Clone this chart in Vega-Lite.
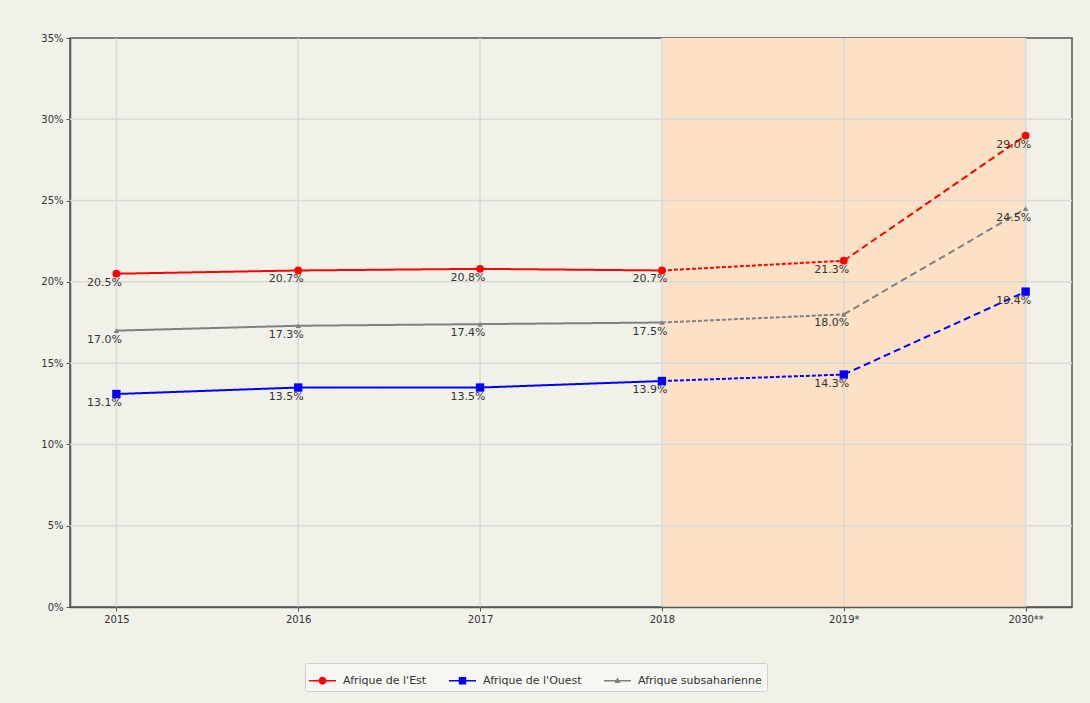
{
  "$schema": "https://vega.github.io/schema/vega-lite/v6.json",
  "width": 1002,
  "height": 569,
  "autosize": {"type": "none"},
  "padding": {"left": 70, "top": 38, "right": 18, "bottom": 96},
  "background": "#f1f1ea",
  "datasets": {
    "pts": [
      {"annee": "2015", "region": "Afrique de l'Est", "val": 0.205},
      {"annee": "2016", "region": "Afrique de l'Est", "val": 0.207},
      {"annee": "2017", "region": "Afrique de l'Est", "val": 0.208},
      {"annee": "2018", "region": "Afrique de l'Est", "val": 0.207},
      {"annee": "2019*", "region": "Afrique de l'Est", "val": 0.213},
      {"annee": "2030**", "region": "Afrique de l'Est", "val": 0.290},
      {"annee": "2015", "region": "Afrique de l'Ouest", "val": 0.131},
      {"annee": "2016", "region": "Afrique de l'Ouest", "val": 0.135},
      {"annee": "2017", "region": "Afrique de l'Ouest", "val": 0.135},
      {"annee": "2018", "region": "Afrique de l'Ouest", "val": 0.139},
      {"annee": "2019*", "region": "Afrique de l'Ouest", "val": 0.143},
      {"annee": "2030**", "region": "Afrique de l'Ouest", "val": 0.194},
      {"annee": "2015", "region": "Afrique subsaharienne", "val": 0.170},
      {"annee": "2016", "region": "Afrique subsaharienne", "val": 0.173},
      {"annee": "2017", "region": "Afrique subsaharienne", "val": 0.174},
      {"annee": "2018", "region": "Afrique subsaharienne", "val": 0.175},
      {"annee": "2019*", "region": "Afrique subsaharienne", "val": 0.180},
      {"annee": "2030**", "region": "Afrique subsaharienne", "val": 0.245}
    ],
    "segs": [
      {"annee": "2015", "serie": "Afrique de l'Est", "val": 0.205, "seg": "a"},
      {"annee": "2016", "serie": "Afrique de l'Est", "val": 0.207, "seg": "a"},
      {"annee": "2017", "serie": "Afrique de l'Est", "val": 0.208, "seg": "a"},
      {"annee": "2018", "serie": "Afrique de l'Est", "val": 0.207, "seg": "a"},
      {"annee": "2018", "serie": "Afrique de l'Est", "val": 0.207, "seg": "b"},
      {"annee": "2019*", "serie": "Afrique de l'Est", "val": 0.213, "seg": "b"},
      {"annee": "2019*", "serie": "Afrique de l'Est", "val": 0.213, "seg": "c"},
      {"annee": "2030**", "serie": "Afrique de l'Est", "val": 0.290, "seg": "c"},
      {"annee": "2015", "serie": "Afrique de l'Ouest", "val": 0.131, "seg": "a"},
      {"annee": "2016", "serie": "Afrique de l'Ouest", "val": 0.135, "seg": "a"},
      {"annee": "2017", "serie": "Afrique de l'Ouest", "val": 0.135, "seg": "a"},
      {"annee": "2018", "serie": "Afrique de l'Ouest", "val": 0.139, "seg": "a"},
      {"annee": "2018", "serie": "Afrique de l'Ouest", "val": 0.139, "seg": "b"},
      {"annee": "2019*", "serie": "Afrique de l'Ouest", "val": 0.143, "seg": "b"},
      {"annee": "2019*", "serie": "Afrique de l'Ouest", "val": 0.143, "seg": "c"},
      {"annee": "2030**", "serie": "Afrique de l'Ouest", "val": 0.194, "seg": "c"},
      {"annee": "2015", "serie": "Afrique subsaharienne", "val": 0.170, "seg": "a"},
      {"annee": "2016", "serie": "Afrique subsaharienne", "val": 0.173, "seg": "a"},
      {"annee": "2017", "serie": "Afrique subsaharienne", "val": 0.174, "seg": "a"},
      {"annee": "2018", "serie": "Afrique subsaharienne", "val": 0.175, "seg": "a"},
      {"annee": "2018", "serie": "Afrique subsaharienne", "val": 0.175, "seg": "b"},
      {"annee": "2019*", "serie": "Afrique subsaharienne", "val": 0.180, "seg": "b"},
      {"annee": "2019*", "serie": "Afrique subsaharienne", "val": 0.180, "seg": "c"},
      {"annee": "2030**", "serie": "Afrique subsaharienne", "val": 0.245, "seg": "c"}
    ],
    "gridY": [{"v": 0.05}, {"v": 0.10}, {"v": 0.15}, {"v": 0.20}, {"v": 0.25}, {"v": 0.30}],
    "gridX": [{"annee": "2015"}, {"annee": "2016"}, {"annee": "2017"}, {"annee": "2018"}, {"annee": "2019*"}, {"annee": "2030**"}],
    "zone": [{"debut": "2018", "fin": "2030**"}]
  },
  "encoding": {
    "x": {
      "field": "annee",
      "type": "ordinal",
      "scale": {"type": "point", "padding": 0.255, "domain": ["2015", "2016", "2017", "2018", "2019*", "2030**"]},
      "axis": {"title": null, "labelAngle": 0, "grid": false}
    }
  },
  "layer": [
    {
      "data": {"name": "zone"},
      "mark": {"type": "rect", "color": "#fde1c6"},
      "encoding": {
        "x": {"field": "debut", "type": "ordinal"},
        "x2": {"field": "fin"},
        "y": {"datum": 0, "type": "quantitative"},
        "y2": {"datum": 0.35}
      }
    },
    {
      "data": {"name": "gridY"},
      "mark": {"type": "rule", "color": "#d9d9d6", "strokeWidth": 1.5},
      "encoding": {
        "x": null,
        "y": {"field": "v", "type": "quantitative"}
      }
    },
    {
      "data": {"name": "gridX"},
      "mark": {"type": "rule", "color": "#d9d9d6", "strokeWidth": 1.5},
      "encoding": {}
    },
    {
      "data": {"name": "segs"},
      "mark": {"type": "line", "strokeWidth": 2},
      "encoding": {
        "y": {
          "field": "val",
          "type": "quantitative",
          "scale": {"domain": [0, 0.35], "nice": false},
          "axis": {"title": null, "format": ".0%", "values": [0, 0.05, 0.1, 0.15, 0.2, 0.25, 0.3, 0.35], "grid": false}
        },
        "color": {
          "field": "serie",
          "type": "nominal",
          "scale": {"domain": ["Afrique de l'Est", "Afrique de l'Ouest", "Afrique subsaharienne"], "range": ["#ff0000", "#0000ff", "#808080"]},
          "legend": {
            "title": null,
            "orient": "none",
            "legendX": 235,
            "legendY": 625,
            "direction": "horizontal",
            "fillColor": "#f6f6f2",
            "strokeColor": "#cfcfcf",
            "padding": 5,
            "cornerRadius": 2,
            "columnPadding": 22,
            "symbolType": "M-1.1,0H1.1",
            "symbolSize": 600,
            "symbolStrokeWidth": 2,
            "symbolDash": [1, 0],
            "symbolOpacity": 1,
            "labelFont": "DejaVu Sans",
            "labelFontSize": 11,
            "labelColor": "#333333",
            "labelOffset": 8,
            "encode": {
              "symbols": {
                "update": {
                  "shape": {"signal": "datum.value === \"Afrique de l'Est\" ? 'M-1.1,-0.07H1.1V0.07H-1.1Z M-0.32,0A0.32,0.32 0 1,1 0.32,0A0.32,0.32 0 1,1 -0.32,0Z' : (datum.value === \"Afrique de l'Ouest\" ? 'M-1.1,-0.07H1.1V0.07H-1.1Z M-0.3,-0.3H0.3V0.3H-0.3Z' : 'M-1.1,-0.06H1.1V0.06H-1.1Z M0,-0.28L0.25,0.18H-0.25Z')"},
                  "fill": {"signal": "datum.value === \"Afrique de l'Est\" ? '#ff0000' : (datum.value === \"Afrique de l'Ouest\" ? '#0000ff' : '#808080')"},
                  "fillOpacity": {"value": 1},
                  "strokeWidth": {"value": 0}
                }
              }
            }
          }
        },
        "strokeDash": {
          "field": "seg",
          "type": "nominal",
          "scale": {"domain": ["a", "b", "c"], "range": [[1, 0], [4, 2], [7, 4]]},
          "legend": null
        }
      }
    },
    {
      "data": {"name": "pts"},
      "transform": [{"filter": {"field": "region", "equal": "Afrique de l'Est"}}],
      "mark": {"type": "point", "shape": "circle", "filled": true, "opacity": 1, "strokeWidth": 0, "size": 60, "color": "#ff0000"},
      "encoding": {"y": {"field": "val", "type": "quantitative"}}
    },
    {
      "data": {"name": "pts"},
      "transform": [{"filter": {"field": "region", "equal": "Afrique de l'Ouest"}}],
      "mark": {"type": "point", "shape": "square", "filled": true, "opacity": 1, "strokeWidth": 0, "size": 70, "color": "#0000ff"},
      "encoding": {"y": {"field": "val", "type": "quantitative"}}
    },
    {
      "data": {"name": "pts"},
      "transform": [{"filter": {"field": "region", "equal": "Afrique subsaharienne"}}],
      "mark": {"type": "point", "shape": "triangle-up", "filled": true, "opacity": 1, "strokeWidth": 0, "size": 30, "color": "#808080"},
      "encoding": {"y": {"field": "val", "type": "quantitative"}}
    },
    {
      "data": {"name": "pts"},
      "mark": {"type": "text", "dx": -12, "dy": 9, "font": "DejaVu Sans", "fontSize": 11, "color": "#333333"},
      "encoding": {
        "y": {"field": "val", "type": "quantitative"},
        "text": {"field": "val", "type": "quantitative", "format": ".1%"}
      }
    }
  ],
  "config": {
    "view": {"stroke": "#555555", "strokeWidth": 1.5},
    "axis": {
      "domainColor": "#555555",
      "domainWidth": 1.5,
      "tickColor": "#555555",
      "tickSize": 4,
      "labelFont": "DejaVu Sans",
      "labelFontSize": 10,
      "labelColor": "#333333",
      "labelPadding": 3
    }
  }
}
